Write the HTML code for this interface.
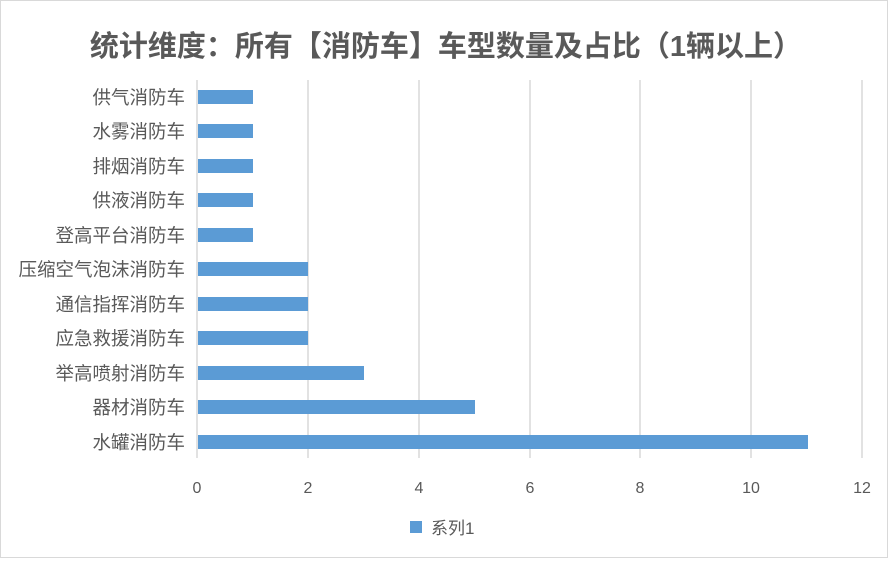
<!DOCTYPE html>
<html><head><meta charset="utf-8"><style>
body{margin:0;background:#fff;}
svg text{font-family:"Liberation Sans","Noto Sans CJK SC",sans-serif;}
</style></head><body>
<svg width="888" height="558" xmlns="http://www.w3.org/2000/svg">
<rect x="0.5" y="0.5" width="887" height="557" fill="#fff" stroke="#d9d9d9"/>
<text x="446" y="56" text-anchor="middle" font-size="29" font-weight="bold" fill="#595959">统计维度：所有【消防车】车型数量及占比（1辆以上）</text>
<g stroke="#d9d9d9" stroke-width="1.5">
<line x1="308" y1="80" x2="308" y2="458"/><line x1="419" y1="80" x2="419" y2="458"/>
<line x1="530" y1="80" x2="530" y2="458"/><line x1="640" y1="80" x2="640" y2="458"/>
<line x1="751" y1="80" x2="751" y2="458"/><line x1="862" y1="80" x2="862" y2="458"/>
<line x1="197" y1="80" x2="197" y2="458"/>
</g>
<g fill="#5b9bd5">
<rect x="198" y="90" width="55" height="14"/>
<rect x="198" y="124" width="55" height="14"/>
<rect x="198" y="159" width="55" height="14"/>
<rect x="198" y="193" width="55" height="14"/>
<rect x="198" y="228" width="55" height="14"/>
<rect x="198" y="262" width="110" height="14"/>
<rect x="198" y="297" width="110" height="14"/>
<rect x="198" y="331" width="110" height="14"/>
<rect x="198" y="366" width="166" height="14"/>
<rect x="198" y="400" width="277" height="14"/>
<rect x="198" y="435" width="610" height="14"/>
</g>
<g font-size="18.5" fill="#595959" text-anchor="end">
<text x="185" y="104">供气消防车</text>
<text x="185" y="138">水雾消防车</text>
<text x="185" y="173">排烟消防车</text>
<text x="185" y="207">供液消防车</text>
<text x="185" y="242">登高平台消防车</text>
<text x="185" y="276">压缩空气泡沫消防车</text>
<text x="185" y="311">通信指挥消防车</text>
<text x="185" y="345">应急救援消防车</text>
<text x="185" y="380">举高喷射消防车</text>
<text x="185" y="414">器材消防车</text>
<text x="185" y="449">水罐消防车</text>
</g>
<g font-size="16" fill="#595959" text-anchor="middle">
<text x="197" y="493">0</text><text x="308" y="493">2</text><text x="419" y="493">4</text>
<text x="530" y="493">6</text><text x="640" y="493">8</text><text x="751" y="493">10</text><text x="862" y="493">12</text>
</g>
<rect x="410" y="521" width="12" height="12" fill="#5b9bd5"/>
<text x="431" y="534" font-size="17" fill="#595959">系列1</text>
</svg>
</body></html>
